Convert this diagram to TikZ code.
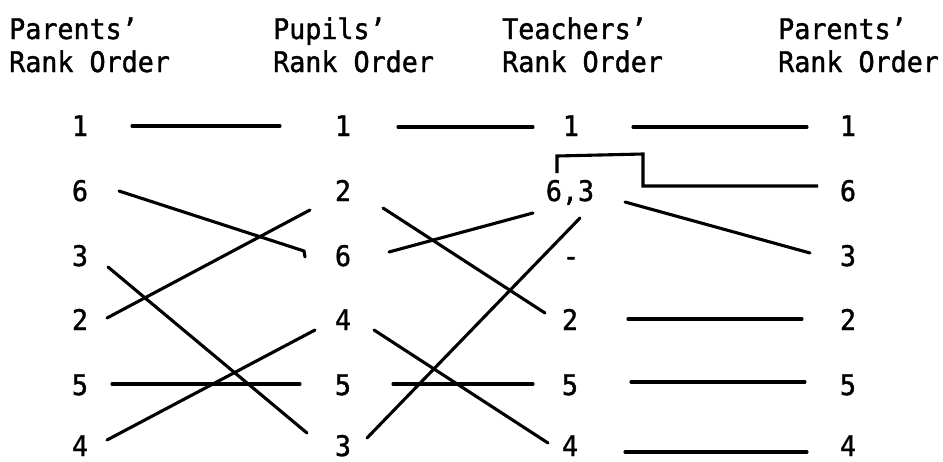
\documentclass[tikz,border=0pt]{standalone}
\usepackage{fontspec}
\newfontfamily\lgfont[FakeStretch=0.94,FakeBold=1.3]{DejaVu Sans Mono}
\begin{document}
\begin{tikzpicture}[x=1pt,y=-1pt,
  txt/.style={font=\lgfont\fontsize{28.4}{33}\selectfont, inner sep=0pt},
  num/.style={txt, anchor=base},
  hdr/.style={txt, anchor=base west},
  conn/.style={line width=3.1pt, line cap=round, line join=miter}]
\useasboundingbox (0,0) rectangle (943,461);
% headers
\node[hdr] (h1a) at (9,39) {Parents’};
\node[hdr] (h1b) at (9,72) {Rank Order};
\node[hdr] (h2a) at (273,39) {Pupils’};
\node[hdr] (h2b) at (273,72) {Rank Order};
\node[hdr] (h3a) at (502,39) {Teachers’};
\node[hdr] (h3b) at (502,72) {Rank Order};
\node[hdr] (h4a) at (778,39) {Parents’};
\node[hdr] (h4b) at (778,72) {Rank Order};
% column 1
\node[num] (a1) at (80,136) {1};
\node[num] (a2) at (80,201) {6};
\node[num] (a3) at (80,266) {3};
\node[num] (a4) at (80,330) {2};
\node[num] (a5) at (80,395) {5};
\node[num] (a6) at (80,456) {4};
% column 2
\node[num] (b1) at (343,136) {1};
\node[num] (b2) at (343,201) {2};
\node[num] (b3) at (343,266) {6};
\node[num] (b4) at (343,330) {4};
\node[num] (b5) at (343,395) {5};
\node[num] (b6) at (343,456) {3};
% column 3
\node[num] (c1) at (571,136) {1};
\node[num] (c2) at (570,201) {6,3};
\node[num] (c3) at (571,266) {-};
\node[num] (c4) at (570,330) {2};
\node[num] (c5) at (570,395) {5};
\node[num] (c6) at (570,456) {4};
% column 4
\node[num] (d1) at (848,136) {1};
\node[num] (d2) at (848,201) {6};
\node[num] (d3) at (848,266) {3};
\node[num] (d4) at (848,330) {2};
\node[num] (d5) at (848,395) {5};
\node[num] (d6) at (848,456) {4};
% connector end points
\coordinate (ab1s) at (132,126); \coordinate (ab1e) at (280,126);
\coordinate (ab2s) at (119,191); \coordinate (ab2m) at (304,251); \coordinate (ab2e) at (305,257);
\coordinate (ab3s) at (107,318); \coordinate (ab3e) at (310,210);
\coordinate (ab4s) at (108,267); \coordinate (ab4e) at (307,433);
\coordinate (ab5s) at (112,384); \coordinate (ab5e) at (300,384);
\coordinate (ab6s) at (107,440); \coordinate (ab6e) at (315,330);
\coordinate (bc1s) at (398,127); \coordinate (bc1e) at (533,127);
\coordinate (bc2s) at (383,208); \coordinate (bc2e) at (545,313);
\coordinate (bc3s) at (389,252); \coordinate (bc3e) at (533,213);
\coordinate (bc4s) at (374,330); \coordinate (bc4e) at (548,443);
\coordinate (bc5s) at (393,384); \coordinate (bc5e) at (533,384);
\coordinate (bc6s) at (367,438); \coordinate (bc6e) at (580,218);
\coordinate (cd1s) at (633,127); \coordinate (cd1e) at (807,127);
\coordinate (cd2s) at (557,173); \coordinate (cd2a) at (557,156); \coordinate (cd2b) at (643,154);
\coordinate (cd2c) at (643,186); \coordinate (cd2e) at (818,186);
\coordinate (cd3s) at (625,202); \coordinate (cd3e) at (810,253);
\coordinate (cd4s) at (628,319); \coordinate (cd4e) at (802,319);
\coordinate (cd5s) at (631,382); \coordinate (cd5e) at (805,382);
\coordinate (cd6s) at (625,452); \coordinate (cd6e) at (807,452);
% connectors
\draw[conn] (ab1s) -- (ab1e);
\draw[conn] (ab2s) -- (ab2m) -- (ab2e);
\draw[conn] (ab3s) -- (ab3e);
\draw[conn] (ab4s) -- (ab4e);
\draw[conn] (ab5s) -- (ab5e);
\draw[conn] (ab6s) -- (ab6e);
\draw[conn] (bc1s) -- (bc1e);
\draw[conn] (bc2s) -- (bc2e);
\draw[conn] (bc3s) -- (bc3e);
\draw[conn] (bc4s) -- (bc4e);
\draw[conn] (bc5s) -- (bc5e);
\draw[conn] (bc6s) -- (bc6e);
\draw[conn] (cd1s) -- (cd1e);
\draw[conn, line cap=butt] (cd2s) -- (cd2a) -- (cd2b) -- (cd2c) -- (cd2e);
\draw[conn] (cd3s) -- (cd3e);
\draw[conn] (cd4s) -- (cd4e);
\draw[conn] (cd5s) -- (cd5e);
\draw[conn] (cd6s) -- (cd6e);
\end{tikzpicture}
\end{document}
